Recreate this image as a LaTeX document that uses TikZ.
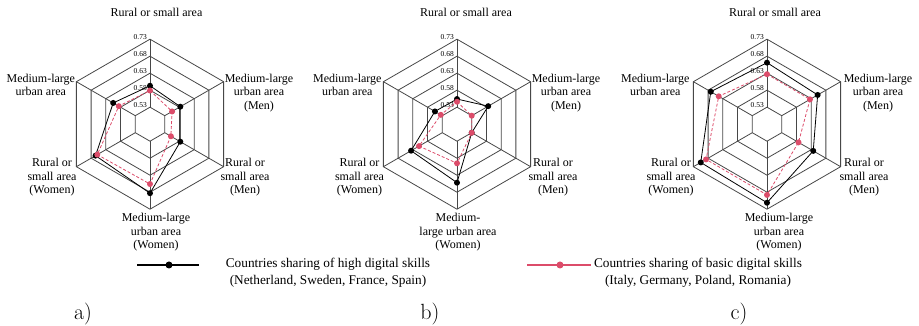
\documentclass[tikz,border=0pt]{standalone}
\usepackage{fontspec}
\usepackage{tikz}
\usetikzlibrary{positioning, calc}
\newfontfamily\labelfont{Liberation Serif}
\definecolor{basred}{RGB}{220,76,106}

\tikzset{
  webline/.style={black!72, line width=0.8pt, line join=miter},
  hiline/.style={black, line width=0.8pt},
  basline/.style={basred, line width=0.8pt, dash pattern=on 3pt off 2pt},
  hidot/.style={fill=black},
  basdot/.style={fill=basred},
  axislabel/.style={font=\labelfont\fontsize{12}{13.3}\selectfont, align=center, inner sep=0pt},
  ticklabel/.style={font=\labelfont\fontsize{7.5}{8}\selectfont, anchor=base east, inner sep=0pt, xshift=-3pt},
  legendtext/.style={font=\labelfont\fontsize{13.3}{17}\selectfont, align=center, inner sep=0pt},
  panel/.style={font=\fontsize{22}{26}\selectfont, anchor=base, inner sep=0pt}
}

\begin{document}
\begin{tikzpicture}[x=1pt, y=1pt]
\useasboundingbox (0,0) rectangle (919,326);

% Hexagonal webs with scale values
\foreach \cx/\p in {150/a,457/b,767/c} {
  \begin{scope}[shift={(\cx,201.8)}]
    \foreach \k in {1,...,5}
      \draw[webline] (90:{\k*17}) \foreach \a in {30,-30,-90,-150,150} {-- (\a:{\k*17})} -- cycle;
    \foreach \a in {90,30,-30,-90,-150,150}
      \draw[webline] (\a:17) -- (\a:85);
    \foreach \k/\v in {1/0.53,2/0.58,3/0.63,4/0.68,5/0.73}
      \node[ticklabel] (\p-tick\k) at (90:{\k*17}) {\v};
  \end{scope}
}

% Series: high skills (black) and basic skills (red)
\foreach \cx/\p/\hivals/\basvals in {
    150/a/{0.593,0.583,0.583,0.683,0.665,0.605}/{0.579,0.555,0.551,0.656,0.659,0.586},
    457/b/{0.554,0.586,0.530,0.652,0.636,0.555}/{0.546,0.530,0.530,0.595,0.609,0.535},
    767/c/{0.661,0.652,0.637,0.711,0.705,0.671}/{0.627,0.626,0.587,0.688,0.687,0.644}} {
  \begin{scope}[shift={(\cx,201.8)}]
    \foreach \v [count=\i] in \hivals
      \coordinate (\p-hi\i) at ({150-60*\i}:{(\v-0.48)*340});
    \foreach \v [count=\i] in \basvals
      \coordinate (\p-bas\i) at ({150-60*\i}:{(\v-0.48)*340});
    \draw[hiline] (\p-hi1) \foreach \i in {2,...,6} {-- (\p-hi\i)} -- cycle;
    \foreach \i in {1,...,6}
      \fill[hidot] (\p-hi\i) circle (3pt);
    \draw[basline] (\p-bas1) \foreach \i in {2,...,6} {-- (\p-bas\i)} -- cycle;
    \foreach \i in {1,...,6}
      \fill[basdot] (\p-bas\i) circle (3pt);
  \end{scope}
}

% Axis labels, chart a
\node[axislabel, anchor=base] (a-top) at (156.5,309.5) {Rural or small area};
\node[axislabel] (a-ul) at (40.8,241) {Medium-large\\urban area};
\node[axislabel] (a-ur) at (259,233) {Medium-large\\urban area\\(Men)};
\node[axislabel] (a-lr) at (245,148.6) {Rural or\\small area\\(Men)};
\node[axislabel] (a-bot) at (156,93.6) {Medium-large\\urban area\\(Women)};
\node[axislabel] (a-ll) at (52,148.6) {Rural or\\small area\\(Women)};

% Axis labels, chart b
\node[axislabel, anchor=base] (b-top) at (466,309.5) {Rural or small area};
\node[axislabel] (b-ul) at (347.3,241) {Medium-large\\urban area};
\node[axislabel] (b-ur) at (566,233) {Medium-large\\urban area\\(Men)};
\node[axislabel] (b-lr) at (553,148.6) {Rural or\\small area\\(Men)};
\node[axislabel] (b-bot) at (458,93.6) {Medium-\\large urban area\\(Women)};
\node[axislabel] (b-ll) at (359.5,148.6) {Rural or\\small area\\(Women)};

% Axis labels, chart c
\node[axislabel, anchor=base] (c-top) at (775,309.5) {Rural or small area};
\node[axislabel] (c-ul) at (655.3,241) {Medium-large\\urban area};
\node[axislabel] (c-ur) at (878,233) {Medium-large\\urban area\\(Men)};
\node[axislabel] (c-lr) at (864,148.6) {Rural or\\small area\\(Men)};
\node[axislabel] (c-bot) at (779,93.6) {Medium-large\\urban area\\(Women)};
\node[axislabel] (c-ll) at (671,148.6) {Rural or\\small area\\(Women)};

% Legend
\coordinate (hi-left) at (137,61);
\coordinate (hi-right) at (199,61);
\coordinate (hi-mid) at (169,61);
\draw[hiline, line width=1.8pt] (hi-left) -- (hi-right);
\fill[hidot] (hi-mid) circle (3.5pt);
\node[legendtext] (hi-text) at (328,53) {Countries sharing of high digital skills\\(Netherland, Sweden, France, Spain)};

\coordinate (bas-left) at (527,61);
\coordinate (bas-right) at (591,61);
\coordinate (bas-mid) at (560,61);
\draw[basred, line width=1.8pt] (bas-left) -- (bas-right);
\fill[basdot] (bas-mid) circle (3.5pt);
\node[legendtext] (bas-text) at (698,53) {Countries sharing of basic digital skills\\(Italy, Germany, Poland, Romania)};

% Panel letters
\node[panel] (pa) at (83,6) {a)};
\node[panel] (pb) at (430,6) {b)};
\node[panel] (pc) at (739,6) {c)};
\end{tikzpicture}
\end{document}
